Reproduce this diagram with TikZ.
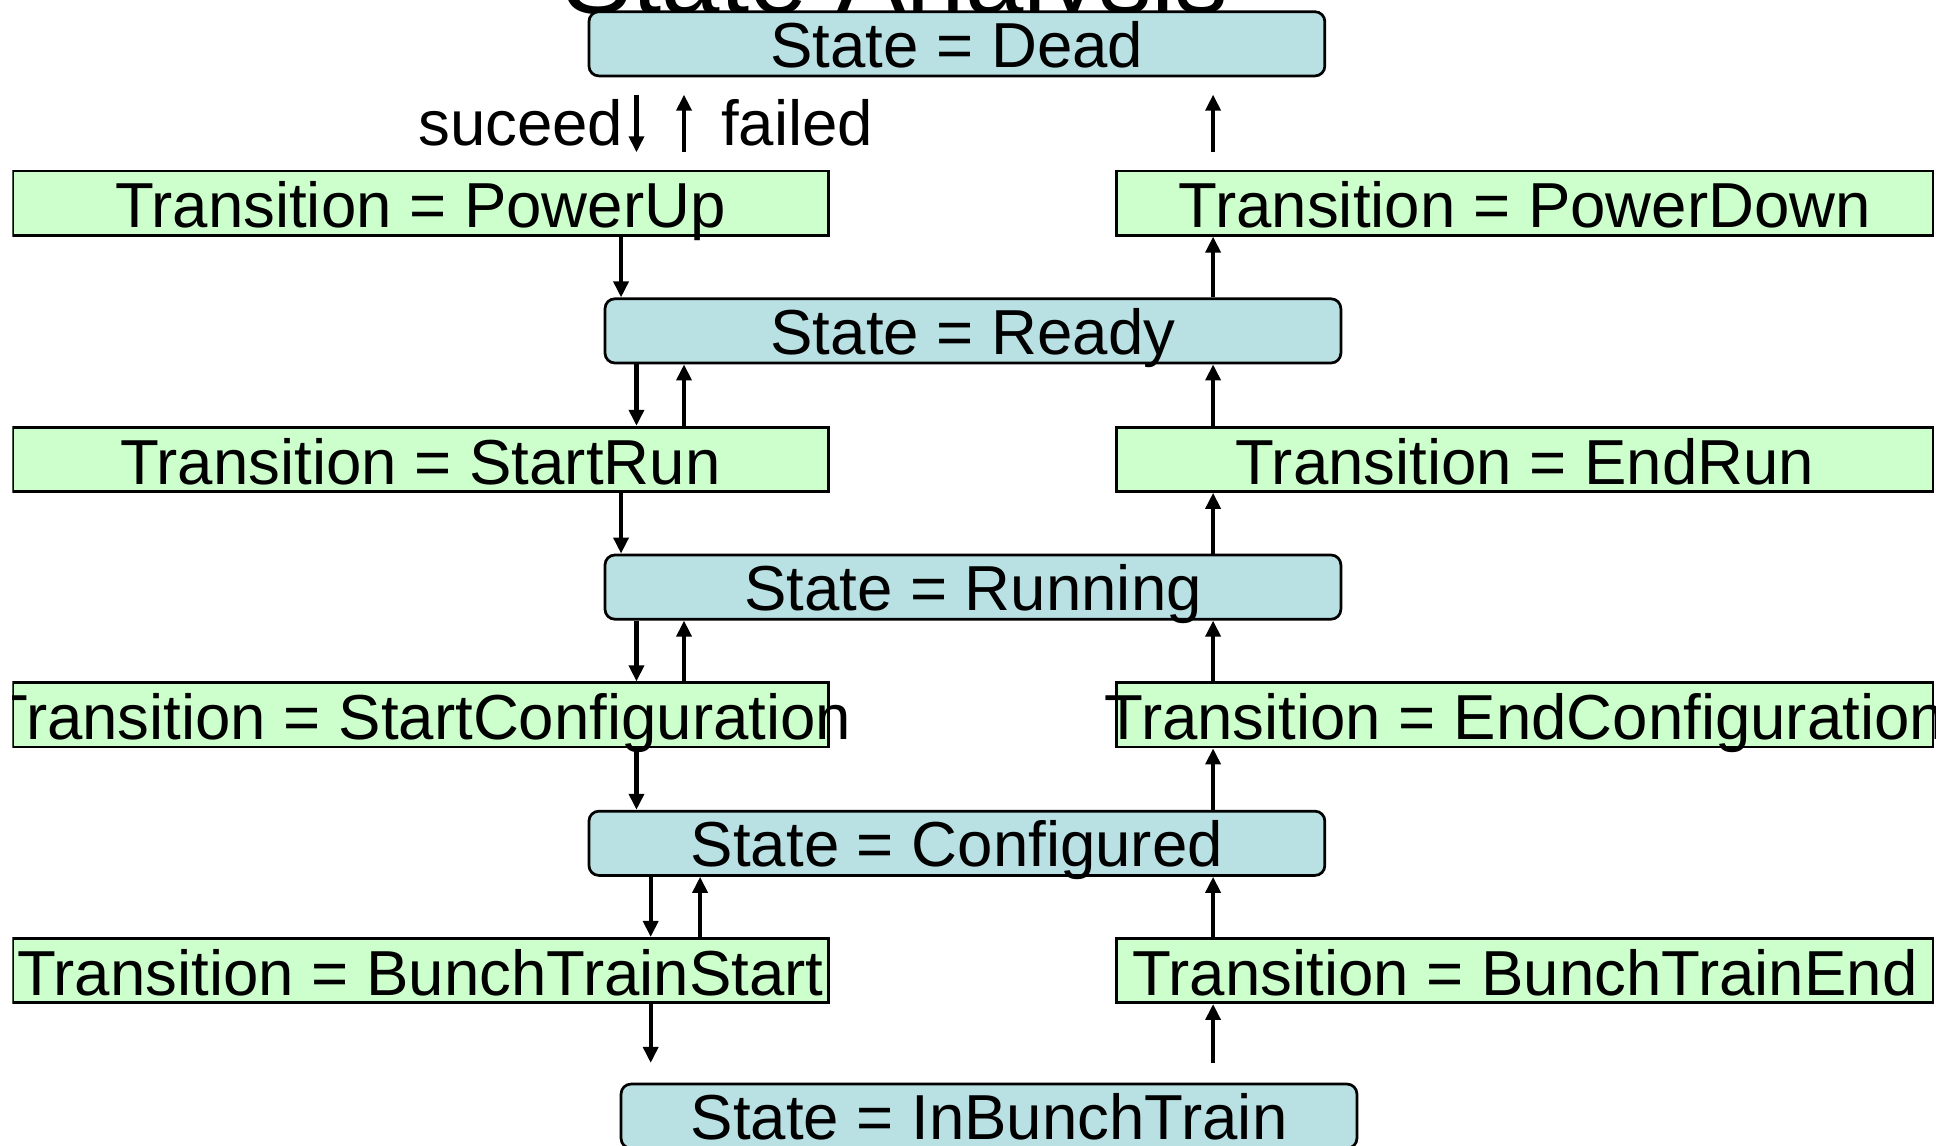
\documentclass[tikz,border=0pt]{standalone}
\usepackage{fontspec}
\setmainfont{Liberation Sans}
\usetikzlibrary{arrows.meta}
\definecolor{statefill}{RGB}{185,224,227}
\definecolor{transfill}{RGB}{204,255,204}
% zero-width label so that long names overhang the box instead of widening it
\newcommand{\boxlabel}[1]{\makebox[0pt]{#1}}

\begin{document}
\begin{tikzpicture}[x=1pt,y=-1pt,
  lbl/.style={font=\fontsize{51.5}{56}\selectfont, inner sep=0pt},
  statebox/.style={lbl, draw=black, line width=2.2pt, fill=statefill,
    rounded corners=8pt, minimum width=596pt, minimum height=52pt,
    text height=45pt, text depth=7pt},
  transbox/.style={lbl, draw=black, line width=2.2pt, fill=transfill,
    minimum width=661pt, minimum height=52pt,
    text height=46pt, text depth=6pt},
  flow/.style={line width=3.4pt, -{Triangle[length=13pt,width=12pt]}},
  gap/.style={shorten <=#1, shorten >=#1},
]
\useasboundingbox (0,0) rectangle (1568,928);
\clip (10,0) rectangle (1568,928);

% heading
\node[anchor=base, font=\fontsize{85}{90}\selectfont, inner sep=0pt] (title) at (725,11) {State Analysis};

% states
\node[statebox] (dead)  at (775,35.5) {\boxlabel{State = Dead}};
\node[statebox] (ready) at (788,268)  {\boxlabel{State = Ready}};
\node[statebox] (run)   at (788,475.5){\boxlabel{State = Running}};
\node[statebox] (conf)  at (775,683)  {\boxlabel{State = Configured}};
\node[statebox] (ibt)   at (801,904)  {\boxlabel{State = InBunchTrain}};

% transitions, forward column
\node[transbox] (pu)  at (340.5,164.5) {\boxlabel{Transition = PowerUp}};
\node[transbox] (sr)  at (340.5,372)   {\boxlabel{Transition = StartRun}};
\node[transbox] (sc)  at (340.5,579)   {\boxlabel{Transition = StartConfiguration}};
\node[transbox] (bts) at (340.5,786)   {\boxlabel{Transition = BunchTrainStart}};

% transitions, backward column
\node[transbox] (pd)  at (1235,164.5) {\boxlabel{Transition = PowerDown}};
\node[transbox] (er)  at (1235,372)   {\boxlabel{Transition = EndRun}};
\node[transbox] (ec)  at (1235,579)   {\boxlabel{Transition = EndConfiguration}};
\node[transbox] (bte) at (1235,786)   {\boxlabel{Transition = BunchTrainEnd}};

% arrow columns
\coordinate (xa) at (503,0);
\coordinate (xb) at (515.5,0);
\coordinate (xc) at (527,0);
\coordinate (xd) at (554,0);
\coordinate (xe) at (567,0);
\coordinate (xr) at (982.5,0);

% legend
\node[lbl, anchor=base east] (suc)  at (505,117.5) {suceed};
\node[lbl, anchor=base west] (fail) at (584,117.5) {failed};
\draw[flow, gap=14pt] (dead.south -| xb) -- (pu.north -| xb);
\draw[flow, gap=14pt] (pu.north -| xd) -- (dead.south -| xd);

% forward path
\draw[flow] (pu.south -| xa)    -- (ready.north -| xa);
\draw[flow] (ready.south -| xb) -- (sr.north -| xb);
\draw[flow] (sr.north -| xd)    -- (ready.south -| xd);
\draw[flow] (sr.south -| xa)    -- (run.north -| xa);
\draw[flow] (run.south -| xb)   -- (sc.north -| xb);
\draw[flow] (sc.north -| xd)    -- (run.south -| xd);
\draw[flow] (sc.south -| xb)    -- (conf.north -| xb);
\draw[flow] (conf.south -| xc)  -- (bts.north -| xc);
\draw[flow] (bts.north -| xe)   -- (conf.south -| xe);
\draw[flow, shorten >=16pt] (bts.south -| xc) -- (ibt.north -| xc);

% backward path
\draw[flow, shorten <=16pt] (ibt.north -| xr) -- (bte.south -| xr);
\draw[flow] (bte.north -| xr)   -- (conf.south -| xr);
\draw[flow] (conf.north -| xr)  -- (ec.south -| xr);
\draw[flow] (ec.north -| xr)    -- (run.south -| xr);
\draw[flow] (run.north -| xr)   -- (er.south -| xr);
\draw[flow] (er.north -| xr)    -- (ready.south -| xr);
\draw[flow] (ready.north -| xr) -- (pd.south -| xr);
\draw[flow, gap=14pt] (pd.north -| xr) -- (dead.south -| xr);
\end{tikzpicture}
\end{document}
